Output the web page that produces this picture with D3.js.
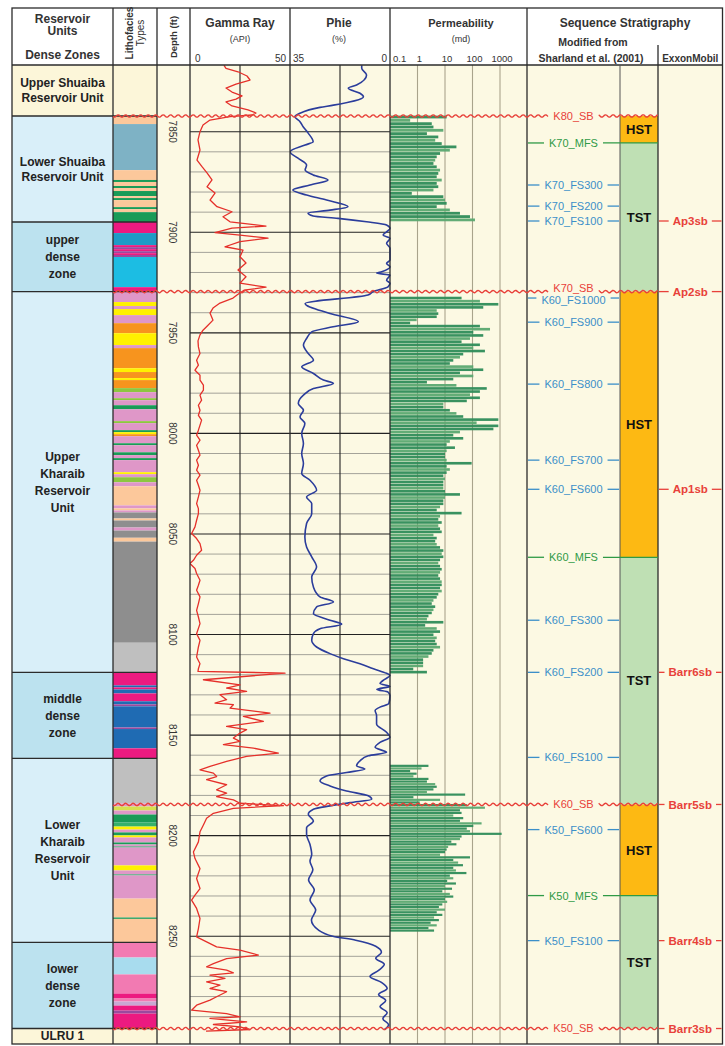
<!DOCTYPE html>
<html><head><meta charset="utf-8">
<script src="https://cdn.jsdelivr.net/npm/d3@7"></script>
<style>
html,body{margin:0;padding:0;background:#fff;}
svg{display:block;font-family:"Liberation Sans",Arial,Helvetica,sans-serif;}
</style></head><body>
<svg id="log" width="725" height="1046"></svg>
<script>
// ---------- Reservoir units / dense zones ----------
const unitNames = [["Upper Shuaiba","Reservoir Unit"],["Lower Shuaiba","Reservoir Unit"],["upper","dense","zone"],["Upper","Kharaib","Reservoir","Unit"],["middle","dense","zone"],["Lower","Kharaib","Reservoir","Unit"],["lower","dense","zone"],["ULRU 1"]];
const unitTops = [7816.9, 7842.2, 7894.9, 7929.5, 8118.8, 8161.6, 8253.1, 8295.9];
const unitKinds = ["cap","reservoir","dense","reservoir","dense","reservoir","dense","cap"];

// ---------- Lithofacies (top depth, facies type) ----------
const faciesTops = [7842.2,7846.2,7869.1,7874.0,7875.0,7877.0,7878.0,7879.5,7882.0,7883.0,7884.0,7887.5,7888.5,7890.0,
 7894.9,7900.4,7906.4,7907.4,7908.4,7909.4,7910.4,7911.3,7912.3,7927.3,
 7929.5,7934.7,7936.7,7938.2,7941.2,7945.2,7950.2,7956.1,7957.6,7967.6,7969.5,7972.5,7973.5,7977.5,7979.5,7982.5,7983.5,7986.0,7988.0,7993.9,7994.9,7998.4,7999.4,8000.4,8001.4,8004.9,8005.9,8009.4,8010.8,8012.3,8013.3,8019.3,8020.3,8021.8,8024.3,8026.3,8035.8,8037.3,8038.3,8039.3,8042.3,8043.3,8046.8,8048.3,8051.9,8053.8,8104.1,
 8118.8,8125.3,8126.3,8127.3,8129.3,8133.2,8134.7,8135.7,8146.2,8147.0,8156.6,
 8161.6,8184.0,8185.5,8187.5,8189.5,8193.5,8195.5,8197.0,8198.4,8199.9,8200.9,8203.4,8204.4,8205.4,8205.9,8214.8,8217.3,8219.3,8219.8,8231.3,8240.7,8241.4,
 8253.1,8260.6,8269.0,8278.5,8281.0,8282.5,8284.5,8287.0,8288.5];
const faciesTypes = ["peach","steel","peach","dkgreen","peach","dkgreen","peach","dkgreen","peach","dkgreen","peach","dkgreen","peach","dkgreen",
 "magenta","teal","magenta","purple","magenta","purple","magenta","purple","cyan","magenta",
 "orchid","yellow","orchid","yellow","orchid","orange","yellow","orchid","orange","yellow","orange","yellow","orange","olive","orchid","olive","orchid","dkgreen","orchid","olive","orchid","dkgreen","yellow","orange","orchid","dkgreen","orchid","dkgreen","orchid","dkgreen","orchid","yellow","orchid","olive","orchid","peach","orchid","peach","orchid","gray","peach","gray","orchid","gray","peach","gray","ltgray",
 "magenta","blue","magenta","blue","magenta","blue","purple","blue","purple","blue","magenta",
 "ltgray","orchid","ygreen","orchid","dkgreen","medgreen","yellow","orchid","dkgreen","yellow","orchid","dkgreen","orchid","dkgreen","orchid","yellow","orchid","dkgreen","orchid","peach","dkgreen","peach",
 "hotpink","ltblue","hotpink","magenta","hotpink","lavender","magenta","purple","magenta"];
const faciesBase = 8295.9;

// ---------- Depth axis ----------
const depthTicks = [7850, 7900, 7950, 8000, 8050, 8100, 8150, 8200, 8250];

// ---------- Gamma ray (API) ----------
const grDepth = [7817.0,7818.5,7820.2,7822.3,7824.3,7826.3,7828.3,7830.3,7832.2,7833.8,7835.2,7837.2,7839.2,7840.7,7841.7,7842.5,7844.2,7846.7,7850.0,7854.1,7859.1,7864.1,7867.4,7870.5,7874.0,7877.4,7880.5,7884.0,7887.3,7889.8,7892.3,7894.8,7896.9,7897.9,7900.2,7901.4,7902.9,7904.7,7907.2,7908.9,7912.2,7915.3,7918.8,7922.1,7925.3,7927.3,7928.8,7931.2,7932.7,7935.2,7937.7,7940.2,7943.7,7946.2,7948.7,7951.0,7954.0,7957.0,7960.3,7963.6,7966.1,7968.6,7971.1,7973.5,7976.0,7978.5,7981.0,7983.5,7986.0,7988.5,7991.0,7993.4,7995.9,7998.4,8000.9,8003.4,8005.9,8008.4,8010.8,8013.3,8015.8,8018.3,8020.8,8023.3,8025.8,8028.3,8031.6,8034.9,8037.4,8039.9,8043.2,8046.5,8049.8,8052.3,8054.8,8058.1,8060.6,8063.1,8064.7,8067.2,8069.7,8073.0,8075.5,8078.0,8081.3,8084.6,8088.0,8091.3,8094.6,8099.6,8102.9,8106.2,8111.2,8114.5,8117.0,8118.3,8119.2,8122.5,8125.0,8126.6,8128.3,8129.9,8132.4,8134.1,8134.9,8136.6,8139.1,8140.7,8143.2,8145.7,8147.3,8149.0,8151.5,8153.1,8154.8,8156.5,8159.0,8160.6,8163.1,8165.6,8167.3,8168.9,8170.6,8172.2,8174.7,8177.2,8178.9,8180.6,8182.2,8183.9,8185.1,8186.4,8188.9,8191.4,8194.7,8198.1,8203.1,8208.1,8211.4,8216.4,8221.3,8226.3,8229.6,8232.1,8236.2,8241.2,8246.2,8250.3,8252.8,8255.3,8256.9,8259.4,8261.1,8263.6,8265.2,8266.9,8268.2,8269.4,8271.0,8272.7,8274.3,8276.0,8277.6,8280.1,8281.8,8284.3,8286.8,8288.5,8290.1,8290.9,8292.6,8293.9,8295.1,8296.4,8297.2];
const grApi = [17,18,24,28.5,30,23,18,21,26,23,18,21,29,33,31,20,10,6.5,5,4,5,3.5,6,8.5,11,8.5,12.5,10,13.5,21,16.5,20,38,21,12.5,25,39,25,17.5,26.5,25,28,24,28,25,38,27,23.5,21.5,15,11.5,10,11.5,9,6.5,5,4,4.2,5,3.3,4.2,2.5,5,5,6.7,6.7,5,5.8,4.2,5,4.2,5.8,5,4.2,3.3,5,3.3,4.2,5,3.3,4.2,3.3,5,3.3,4.2,5,4.2,3.3,4.2,4.2,3.3,2.5,0.8,3.3,5,5.8,3.3,1.7,0,2.5,3.3,5,4.2,3.3,5,4.2,3.3,4.2,5,3.3,5,4.2,3.3,5,4.2,4,47.5,6.7,25,18.3,28.3,15,18.3,12.5,21.7,20,40,26.7,36.7,18.3,28.3,25,21.7,25,16.7,31.7,44.2,28.3,18.3,10,5,11.7,13.3,8.3,18.3,13.3,18.3,13.3,21.7,25,46.7,21.7,11.7,8.3,6.7,5,4.2,1.7,2.5,5,3.3,5,2.5,0.8,3.3,5,4.2,3.3,8.3,13.3,25,34.2,18.3,11.7,8.3,18.3,21.7,10,17.5,8.3,15,10,18.3,13.3,10,3.3,0.8,18.3,25,10,28.3,11.7,25,30,8];

// ---------- Effective porosity Phie (%) ----------
const phieDepth = [7817.0,7818.5,7821.8,7826.8,7828.4,7830.9,7832.6,7836.8,7837.9,7840.8,7842.5,7845.0,7847.5,7850.6,7855.0,7856.6,7860.0,7863.2,7866.6,7869.1,7871.5,7874.0,7876.5,7879.0,7881.5,7884.0,7887.3,7889.0,7890.4,7891.9,7893.1,7894.8,7896.4,7898.1,7899.8,7901.4,7903.0,7905.5,7907.9,7913.8,7915.5,7917.2,7919.6,7920.3,7921.3,7923.8,7925.4,7927.1,7929.6,7931.2,7935.4,7940.4,7944.5,7947.0,7949.5,7952.8,7956.1,7960.3,7963.6,7966.9,7970.2,7973.5,7975.2,7977.7,7981.0,7985.1,7988.5,7991.8,7995.1,8000.0,8005.0,8010.0,8015.0,8019.9,8023.3,8028.3,8031.6,8034.9,8039.9,8044.8,8051.5,8056.5,8061.4,8066.4,8071.4,8076.4,8081.3,8083.8,8086.3,8089.6,8092.9,8094.9,8097.1,8099.6,8102.9,8106.2,8109.5,8112.0,8114.5,8117.0,8119.3,8120.3,8122.8,8124.4,8125.8,8127.3,8128.6,8130.3,8134.3,8136.1,8137.8,8140.3,8144.5,8148.6,8151.1,8153.6,8156.1,8158.6,8160.3,8162.8,8165.3,8166.9,8168.6,8170.3,8172.8,8175.3,8177.8,8180.2,8181.9,8183.6,8185.2,8186.9,8189.4,8192.7,8196.1,8199.4,8204.4,8209.4,8212.7,8217.0,8222.0,8227.0,8232.0,8237.0,8242.0,8247.0,8250.0,8252.0,8255.0,8258.0,8261.0,8264.0,8267.0,8270.0,8273.0,8276.0,8279.0,8282.0,8285.0,8288.0,8291.0,8294.0,8296.5];
const phieValue = [9.9,9.9,8.2,11.7,14.6,10.5,9.3,19.8,24.5,31.5,33.3,31.5,30.4,28.7,26.9,29.7,35,32.2,29.2,29.7,26.9,21.7,28,34,29.2,22.2,14.7,21,28.7,26.9,18.2,8.2,1.2,0,1.2,2.4,0,1.2,0,0,1.2,0,2.9,4.7,0,1.2,0,0.7,6,7.7,29.7,21,11.1,19.9,27.4,29.2,30.3,28.6,26.8,30.9,26.8,23.3,19.8,26.8,30.3,32.1,30.3,31.5,29.8,30.9,30.3,30.9,30.3,30.9,28,25.7,29.2,27.4,27.4,29.2,29.8,29.2,27.4,25.7,27.4,26.8,24.5,19.8,25.7,26.8,21,16.9,24.5,26.8,27.4,25.7,21,16.3,10.5,5.8,1.2,0,2.4,3.5,0,4.6,0.7,0,0.4,3.5,5.2,4.7,4.7,1.2,0,3.5,5.2,1.2,7.6,10.5,11.7,8.8,15.2,22.2,24.5,21,15.2,7.6,6.4,14,21,26.8,28.6,26.8,29.2,29.2,28,27.4,28,27,28.5,26.5,28,26,27.5,25,20,12,5,3,5,2,4,7,3,1,4,1.5,3.5,1,2.5,0.5,2];

// ---------- Core permeability (md), sampled from the top of each cored interval ----------
const permTops = [7842.7, 7932.7, 8165.3];
const permSteps = [1.65, 1.55, 1.3];
const permCore1 = [11.5,0.54,3.3,3.8,8.7,2.2,5.7,4.4,7.6,26,15,6.6,5,4.4,3.8,5,6.6,5.7,5,7.6,5,5.7,3.8,0.62,8.7,10,11.5,5,15,35,81,123];
const permCore2 = [40,186,870,246,5,5.7,5,0.93,0.54,186,433,107,246,81,40,186,107,283,46,35,20,15,107,246,35,107,20,2.2,26,330,186,81,186,62,8.7,8.7,15,26,46,870,141,870,575,35,20,46,15,11.5,23,11.5,10,10,11.5,93,11.5,15,11.5,8.7,10,8.7,8.7,8.7,
 10,35,10,8.7,8.7,6.6,5,40,6.6,5.7,7.6,5.7,6.6,7.6,3.8,5,4.4,5,6.6,8.7,7.6,8.7,6.6,5.7,6.6,7.6,6.6,5.7,6.6,7.6,7.6,6.6,7.6,5.7,5,3.8,3.3,4.4,3.8,3.3,2.5,2.2,8.7,1.9,5,6.6,3.8,5,4.4,5,6.6,3.8,3.3,2.5,1.6,1.6,1.6,0.7,2.2];
const permCore3 = [2.5,1.4,0.54,0.93,0.71,2.5,2.2,4.4,5,3.8,2.2,54,0.71,6.6,1.2,62,283,35,40,20,46,35,214,107,62,81,1150,40,35,17,26,13,11.5,10,6.6,81,20,
 30,45,20,25,60,15,20,12,25,10,18,8,15,20,10,12,8,6,10,5,8,4,6,3,5,2.5,4];
const permTicks = [0.1, 1, 10, 100, 1000];

// ---------- Sequence stratigraphy ----------
const seqNames = ["K80_SB","K70_MFS","K70_FS300","K70_FS200","K70_FS100","K70_SB","K60_FS1000","K60_FS900","K60_FS800","K60_FS700","K60_FS600","K60_MFS","K60_FS300","K60_FS200","K60_FS100","K60_SB","K50_FS600","K50_MFS","K50_FS100","K50_SB"];
const seqDepths = [7842.2,7855.6,7876.5,7887.0,7894.4,7929.5,7932.7,7944.7,7975.5,8013.3,8027.8,8061.6,8092.9,8118.8,8161.1,8184.5,8197.0,8229.8,8252.2,8295.9];
const tractNames = ["HST","TST","HST","TST","HST","TST"];
const tractTops = [7842.2,7855.6,7929.5,8061.6,8184.5,8229.8];
const tractBases = [7855.6,7929.5,8061.6,8184.5,8229.8,8295.9];
const exxonNames = ["Ap3sb","Ap2sb","Ap1sb","Barr6sb","Barr5sb","Barr4sb","Barr3sb"];
const exxonDepths = [7894.4,7929.5,8027.8,8118.8,8184.5,8252.2,8295.9];

// ---------- Layout & style ----------
const F = {left:12, right:722.5, top:8, head:65, bottom:1044};
const X = {unit:12, facies:113, depth:157, gr:190, phie:290, perm:390, seq:527, tract:620, exxon:658, end:722.5};
const palette = {peach:"#fcc89b", steel:"#7eb2c5", dkgreen:"#1a9b57", olive:"#8dc641", medgreen:"#36b06b", ygreen:"#d6e04f",
  magenta:"#ec1a80", teal:"#1e9bc6", purple:"#9a4a9e", cyan:"#1cbde3", orchid:"#df97c8", yellow:"#fff100", orange:"#f7941e",
  gray:"#8e8e8e", ltgray:"#bfbfbf", blue:"#1f6bb3", hotpink:"#f27ab2", ltblue:"#a8dcee", lavender:"#c9a8d3"};
const unitFill = {cap:"#fcf6d9", reservoir:"#d9eff9", dense:"#bce2ef"};
const cream = "#fcf9e3";
const RED = "#e8413a", BLUE = "#3b8fc9", GREEN = "#2f9a46", INK = "#2b2b2b";

const svg = d3.select("#log");
const y = d3.scaleLinear().domain([7850, 8250]).range([131.7, 936.2]);
const dTop = y.invert(F.head), dBot = y.invert(F.bottom);
const grX = d3.scaleLinear().domain([0, 50]).range([X.gr, X.phie]);
const phX = d3.scaleLinear().domain([35, 0]).range([X.phie, X.perm]);
const kX = d3.scaleLog().domain([0.1, 1000]).range([X.perm, 500]);

svg.append("rect").attr("width",725).attr("height",1046).attr("fill","#fff");
svg.append("rect").attr("x",X.depth).attr("y",F.head).attr("width",X.end-X.depth).attr("height",F.bottom-F.head).attr("fill",cream);

// unit column fills
const units = unitNames.map((n,i)=>({lines:n, kind:unitKinds[i], top:unitTops[i], base: i+1<unitTops.length ? unitTops[i+1] : dBot}));
svg.append("g").selectAll("rect").data(units).join("rect")
  .attr("x",X.unit).attr("width",X.facies-X.unit)
  .attr("y",d=>y(d.top)).attr("height",d=>y(d.base)-y(d.top))
  .attr("fill",d=>unitFill[d.kind]);
svg.append("rect").attr("x",X.facies).attr("y",F.head).attr("width",X.depth-X.facies).attr("height",y(unitTops[1])-F.head).attr("fill",unitFill.cap);
svg.append("rect").attr("x",X.facies).attr("y",y(faciesBase)).attr("width",X.depth-X.facies).attr("height",F.bottom-y(faciesBase)).attr("fill",unitFill.cap);

// lithofacies bands
const facies = faciesTops.map((t,i)=>({top:t, base: i+1<faciesTops.length ? faciesTops[i+1] : faciesBase, type:faciesTypes[i]}));
svg.append("g").selectAll("rect").data(facies).join("rect")
  .attr("x",X.facies).attr("width",X.depth-X.facies)
  .attr("y",d=>y(d.top)).attr("height",d=>y(d.base)-y(d.top))
  .attr("fill",d=>palette[d.type]);

// systems tracts
const tracts = tractNames.map((n,i)=>({name:n, top:tractTops[i], base:tractBases[i]}));
svg.append("g").selectAll("rect").data(tracts).join("rect")
  .attr("x",X.tract).attr("width",X.exxon-X.tract)
  .attr("y",d=>y(d.top)).attr("height",d=>y(d.base)-y(d.top))
  .attr("fill",d=>d.name==="HST" ? "#fdb913" : "#bfe0b4");

// depth grid in the log tracks
const gridDepths = d3.range(7850, 8300, 10).filter(d => d > seqDepths[0] && d < seqDepths[seqDepths.length-1]);
svg.append("g").selectAll("line").data(gridDepths).join("line")
  .attr("x1",X.gr).attr("x2",X.perm).attr("y1",d=>y(d)).attr("y2",d=>y(d))
  .attr("stroke",d=> d%50===0 ? "#222" : "#8d8d86").attr("stroke-width",d=> d%50===0 ? 1.1 : 0.8);
svg.append("g").selectAll("line").data(permTicks.slice(1)).join("line")
  .attr("x1",d=>kX(d)).attr("x2",d=>kX(d)).attr("y1",F.head).attr("y2",F.bottom)
  .attr("stroke","#a9a48c").attr("stroke-width",1.1);
svg.append("g").selectAll("line").data([grX(25), phX(17.5)]).join("line")
  .attr("x1",d=>d).attr("x2",d=>d).attr("y1",F.head).attr("y2",F.bottom)
  .attr("stroke","#222").attr("stroke-width",1.1);

// permeability bars
const permBars = [];
[permCore1, permCore2, permCore3].forEach((arr, j) => arr.forEach((k, i) => permBars.push({depth: permTops[j] + i*permSteps[j], k, step: permSteps[j], i})));
const pxPerFt = y(1) - y(0);
svg.append("g").selectAll("rect").data(permBars).join("rect")
  .attr("x",X.perm).attr("width",d=>kX(d.k)-X.perm)
  .attr("y",d=>y(d.depth)-d.step*pxPerFt*0.42).attr("height",d=>d.step*pxPerFt*0.84)
  .attr("fill",d=> d.i%3===1 ? "#5aa870" : "#2e8c58").attr("opacity",0.95);

// clip paths for curves
const defs = svg.append("defs");
defs.append("clipPath").attr("id","clipGR").append("rect").attr("x",X.gr).attr("y",F.head).attr("width",X.phie-X.gr).attr("height",F.bottom-F.head);
defs.append("clipPath").attr("id","clipPH").append("rect").attr("x",X.phie).attr("y",F.head).attr("width",X.perm-X.phie+1).attr("height",F.bottom-F.head);

const grLine = d3.line().x(d=>grX(d[1])).y(d=>y(d[0]));
svg.append("path").attr("clip-path","url(#clipGR)")
  .attr("d",grLine(grDepth.map((d,i)=>[d,grApi[i]])))
  .attr("fill","none").attr("stroke","#e5302a").attr("stroke-width",1.3).attr("stroke-linejoin","round");
const phLine = d3.line().x(d=>phX(d[1])).y(d=>y(d[0])).curve(d3.curveMonotoneY);
svg.append("path").attr("clip-path","url(#clipPH)")
  .attr("d",phLine(phieDepth.map((d,i)=>[d,phieValue[i]])))
  .attr("fill","none").attr("stroke","#2b3d9b").attr("stroke-width",1.6).attr("stroke-linejoin","round");

// wavy sequence-boundary line
function wavy(x0, x1, yy) {
  const pts = [];
  for (let x = x0; x <= x1; x += 1) pts.push([x, yy + 1.3*Math.sin(x*2*Math.PI/7.5)]);
  return d3.line().curve(d3.curveBasis)(pts);
}

// frame and column rules
const rules = svg.append("g").attr("stroke",INK).attr("stroke-width",1.3).attr("fill","none");
rules.append("rect").attr("x",F.left).attr("y",F.top).attr("width",F.right-F.left).attr("height",F.bottom-F.top);
rules.append("line").attr("x1",F.left).attr("x2",F.right).attr("y1",F.head).attr("y2",F.head);
[X.facies, X.depth, X.gr, X.phie, X.perm, X.seq].forEach(x=>rules.append("line").attr("x1",x).attr("x2",x).attr("y1",F.top).attr("y2",F.bottom));
rules.append("line").attr("x1",X.exxon).attr("x2",X.exxon).attr("y1",45).attr("y2",F.bottom);
rules.append("line").attr("x1",X.tract).attr("x2",X.tract).attr("y1",F.head).attr("y2",F.bottom).attr("stroke","#555").attr("stroke-width",1);
unitTops.slice(1).forEach(d=>rules.append("line").attr("x1",F.left).attr("x2",X.depth).attr("y1",y(d)).attr("y2",y(d)));

// ---------- header ----------
const head = svg.append("g").attr("fill","#333").attr("font-weight","bold");
function htext(x, yy, s, size, opts={}) {
  return head.append("text").attr("x",x).attr("y",yy).attr("text-anchor",opts.anchor||"middle")
    .attr("font-size",size).attr("font-weight",opts.weight||"bold").text(s);
}
htext(62.5, 23, "Reservoir", 12);
htext(62.5, 35, "Units", 12);
htext(62.5, 59, "Dense Zones", 12);
head.append("text").attr("transform","translate(133,33) rotate(-90)").attr("text-anchor","middle").attr("font-size",10).text("Lithofacies");
head.append("text").attr("transform","translate(144,33) rotate(-90)").attr("text-anchor","middle").attr("font-size",10).attr("font-weight","normal").text("Types");
head.append("text").attr("transform","translate(177,37) rotate(-90)").attr("text-anchor","middle").attr("font-size",9.5).text("Depth (ft)");
htext(240, 27, "Gamma Ray", 12);
htext(240, 42, "(API)", 9, {weight:"normal"});
htext(195, 62, "0", 10, {anchor:"start", weight:"normal"});
htext(286, 62, "50", 10, {anchor:"end", weight:"normal"});
htext(339, 27, "Phie", 12);
htext(339, 42, "(%)", 9, {weight:"normal"});
htext(293, 62, "35", 10, {anchor:"start", weight:"normal"});
htext(387, 62, "0", 10, {anchor:"end", weight:"normal"});
htext(461, 27, "Permeability", 11);
htext(461, 42, "(md)", 9, {weight:"normal"});
permTicks.forEach((t,i)=>{
  const px = i===0 ? X.perm+3 : kX(t)+2;
  htext(px, 62, String(t), 9.5, {anchor: i===0 ? "start" : "middle", weight:"normal"});
});
htext(625, 27, "Sequence Stratigraphy", 12);
htext(593, 46, "Modified from", 10.5);
htext(591, 62, "Sharland et al. (2001)", 10.5);
htext((X.exxon+X.end)/2, 62, "ExxonMobil", 10);

// ---------- body labels ----------
const body = svg.append("g");
units.forEach(u=>{
  const yc = (y(Math.max(u.top,dTop)) + y(u.base))/2;
  const lh = u.lines.length===2 ? 15 : 17;
  u.lines.forEach((s,i)=>{
    body.append("text").attr("x",62.5).attr("y", yc + (i-(u.lines.length-1)/2)*lh).attr("dy","0.35em")
      .attr("text-anchor","middle").attr("font-size",12).attr("font-weight","bold").attr("fill","#222").text(s);
  });
});
depthTicks.forEach(d=>{
  body.append("text").attr("transform",`translate(${(X.depth+X.gr)/2-1},${y(d)}) rotate(90)`)
    .attr("text-anchor","middle").attr("dy","0.35em").attr("font-size",10).attr("fill","#333").text(d);
});
tracts.forEach(t=>{
  body.append("text").attr("x",(X.tract+X.exxon)/2).attr("y",(y(t.top)+y(t.base))/2).attr("dy","0.35em")
    .attr("text-anchor","middle").attr("font-size",13).attr("font-weight","bold").attr("fill","#111").text(t.name);
});

// sequence surfaces; a label crowded by the next surface is lifted slightly
const seqCx = (X.seq + X.tract)/2;
seqNames.forEach((name,i)=>{
  const yy = y(seqDepths[i]);
  const kind = name.endsWith("_SB") ? "SB" : name.includes("MFS") ? "MFS" : "FS";
  const col = kind==="SB" ? RED : kind==="MFS" ? GREEN : BLUE;
  const crowdedBelow = i+1 < seqDepths.length && seqDepths[i+1]-seqDepths[i] < 5;
  const crowdedAbove = i > 0 && seqDepths[i]-seqDepths[i-1] < 5;
  const ty = yy + (crowdedBelow ? -3.5 : 0) + (crowdedAbove ? 2 : 0);
  const t = body.append("text").attr("x",seqCx).attr("y",ty).attr("dy","0.36em").attr("text-anchor","middle")
    .attr("font-size",11).attr("fill",col).text(name);
  const w = t.node().getComputedTextLength();
  const a = seqCx - w/2 - 5, b = seqCx + w/2 + 5;
  if (kind==="SB") {
    body.append("path").attr("d",wavy(X.facies, a, yy)).attr("fill","none").attr("stroke",RED).attr("stroke-width",1.4);
    body.append("path").attr("d",wavy(b, X.exxon, yy)).attr("fill","none").attr("stroke",RED).attr("stroke-width",1.4);
  } else {
    const right = kind==="MFS" ? X.exxon : X.tract - 1;
    body.append("line").attr("x1",X.seq+1).attr("x2",a).attr("y1",yy).attr("y2",yy).attr("stroke",col).attr("stroke-width",1.3);
    body.append("line").attr("x1",b).attr("x2",right).attr("y1",yy).attr("y2",yy).attr("stroke",col).attr("stroke-width",1.3);
  }
});
const exCx = (X.exxon + X.end)/2;
exxonNames.forEach((name,i)=>{
  const yy = y(exxonDepths[i]);
  const t = body.append("text").attr("x",exCx).attr("y",yy).attr("dy","0.36em").attr("text-anchor","middle")
    .attr("font-size",11.5).attr("font-weight","bold").attr("fill",RED).text(name);
  const w = t.node().getComputedTextLength();
  body.append("line").attr("x1",X.exxon+1).attr("x2",exCx-w/2-4).attr("y1",yy).attr("y2",yy).attr("stroke",RED).attr("stroke-width",1.3);
  body.append("line").attr("x1",exCx+w/2+4).attr("x2",X.end-1).attr("y1",yy).attr("y2",yy).attr("stroke",RED).attr("stroke-width",1.3);
});
</script></body></html>
